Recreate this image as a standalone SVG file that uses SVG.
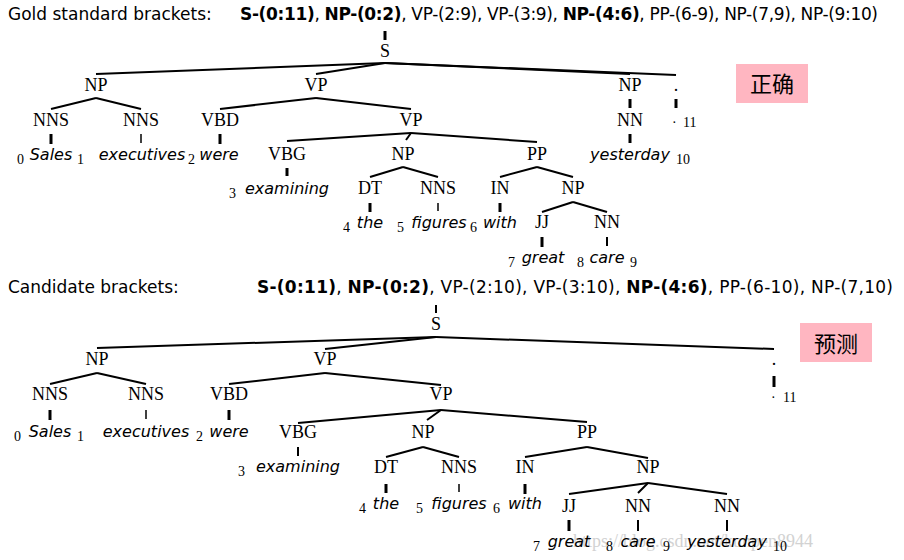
<svg xmlns="http://www.w3.org/2000/svg" width="904" height="560" viewBox="0 0 904 560">
<style>
.hd{font-family:"DejaVu Sans",sans-serif;font-size:17px;fill:#000}
.b{font-weight:bold}
.lb{font-family:"Liberation Serif",serif;font-size:18px;fill:#000;text-anchor:middle}
.w{font-family:"DejaVu Sans",sans-serif;font-style:italic;font-size:16px;fill:#000;text-anchor:middle}
.n{font-family:"Liberation Serif",serif;font-size:14px;fill:#000}
.cj{font-family:"Noto Sans CJK SC",sans-serif;font-size:22px;fill:#000;text-anchor:middle}
.wm{font-family:"Liberation Serif",serif;font-size:18px;fill:#d2d2d2}
.e line{stroke:#000;stroke-width:2;stroke-linecap:butt}
.e line.t{stroke-width:3}
.e line.s{stroke-width:1.5}
</style>
<rect width="904" height="560" fill="#fff"/>
<text class="wm" x="573" y="547">https://blog.csdn.net/kunpen8944</text>
<text class="hd" x="8" y="20">Gold standard brackets:</text>
<text class="hd" x="240" y="20" textLength="638"><tspan class="b">S-(0:11)</tspan>, <tspan class="b">NP-(0:2)</tspan>, VP-(2:9), VP-(3:9), <tspan class="b">NP-(4:6)</tspan>, PP-(6-9), NP-(7,9), NP-(9:10)</text>
<text class="hd" x="8" y="293">Candidate brackets:</text>
<text class="hd" x="257" y="293" textLength="636"><tspan class="b">S-(0:11)</tspan>, <tspan class="b">NP-(0:2)</tspan>, VP-(2:10), VP-(3:10), <tspan class="b">NP-(4:6)</tspan>, PP-(6-10), NP-(7,10)</text>
<g id="tag-gold"><rect x="736" y="64" width="72" height="39" fill="#ffb6c1"/><text class="cj" x="772" y="92">正确</text></g>
<g id="tag-cand"><rect x="800" y="323" width="72" height="39" fill="#ffb6c1"/><text class="cj" x="836" y="352">预测</text></g>
<g class="e" id="connectors">
<line class="t" x1="385" y1="31" x2="385" y2="40"/>
<line x1="385" y1="63" x2="96" y2="74"/>
<line x1="385" y1="63" x2="316" y2="74"/>
<line x1="385" y1="63" x2="630" y2="74"/>
<line x1="385" y1="63" x2="676" y2="75"/>
<line x1="96" y1="98" x2="51" y2="109"/>
<line x1="96" y1="98" x2="141" y2="109"/>
<line x1="316" y1="98" x2="220" y2="109"/>
<line x1="316" y1="98" x2="411" y2="109"/>
<line class="t" x1="630" y1="99" x2="630" y2="108"/>
<line class="t" x1="676" y1="99" x2="676" y2="108"/>
<line class="t" x1="51" y1="134" x2="51" y2="144"/>
<line class="s" x1="141" y1="134" x2="141" y2="143"/>
<line class="t" x1="220" y1="134" x2="220" y2="144"/>
<line class="t" x1="630" y1="134" x2="630" y2="143"/>
<line x1="411" y1="133" x2="287" y2="141"/>
<line x1="411" y1="133" x2="406" y2="140"/>
<line x1="411" y1="133" x2="537" y2="142"/>
<line class="t" x1="287" y1="168" x2="287" y2="176"/>
<line x1="403" y1="167" x2="370" y2="177"/>
<line x1="403" y1="167" x2="438" y2="177"/>
<line x1="537" y1="167" x2="500" y2="177"/>
<line x1="537" y1="167" x2="573" y2="177"/>
<line class="t" x1="370" y1="203" x2="370" y2="212"/>
<line class="s" x1="438" y1="203" x2="438" y2="211"/>
<line class="t" x1="500" y1="203" x2="500" y2="212"/>
<line x1="573" y1="202" x2="542" y2="212"/>
<line x1="573" y1="202" x2="607" y2="212"/>
<line class="t" x1="542" y1="237" x2="542" y2="247"/>
<line x1="607" y1="237" x2="607" y2="246"/>
<line x1="436" y1="305" x2="436" y2="313"/>
<line x1="436" y1="337" x2="97" y2="348"/>
<line x1="436" y1="337" x2="325" y2="349"/>
<line x1="436" y1="337" x2="774" y2="349"/>
<line x1="97" y1="373" x2="50" y2="384"/>
<line x1="97" y1="373" x2="146" y2="384"/>
<line x1="325" y1="373" x2="229" y2="384"/>
<line x1="325" y1="373" x2="441" y2="385"/>
<line class="t" x1="774" y1="376" x2="774" y2="387"/>
<line class="t" x1="50" y1="410" x2="50" y2="420"/>
<line class="s" x1="146" y1="410" x2="146" y2="419"/>
<line class="t" x1="229" y1="410" x2="229" y2="420"/>
<line x1="441" y1="410" x2="298" y2="423"/>
<line x1="441" y1="410" x2="427" y2="420"/>
<line x1="441" y1="410" x2="587" y2="422"/>
<line x1="298" y1="447" x2="298" y2="456"/>
<line x1="423" y1="447" x2="386" y2="457"/>
<line x1="423" y1="447" x2="459" y2="457"/>
<line x1="587" y1="447" x2="525" y2="457"/>
<line x1="587" y1="447" x2="648" y2="458"/>
<line class="t" x1="386" y1="484" x2="386" y2="493"/>
<line class="s" x1="459" y1="484" x2="459" y2="492"/>
<line class="t" x1="525" y1="484" x2="525" y2="494"/>
<line x1="648" y1="483" x2="569" y2="494"/>
<line x1="648" y1="483" x2="638" y2="493"/>
<line x1="648" y1="483" x2="727" y2="494"/>
<line class="t" x1="569" y1="520" x2="569" y2="531"/>
<line x1="638" y1="520" x2="638" y2="531"/>
<line x1="727" y1="520" x2="727" y2="531"/>
</g>
<g id="gold-tree">
<g id="g-S"><text class="lb" x="385" y="57">S</text></g>
<g id="g-NP1"><text class="lb" x="96" y="91">NP</text></g>
<g id="g-VP1"><text class="lb" x="316" y="91">VP</text></g>
<g id="g-NP9"><text class="lb" x="630" y="91">NP</text></g>
<g id="g-dot"><text class="lb" x="676" y="91">.</text></g>
<g id="g-NNS0"><text class="lb" x="51" y="126">NNS</text></g>
<g id="g-NNS1"><text class="lb" x="141" y="126">NNS</text></g>
<g id="g-VBD"><text class="lb" x="220" y="126">VBD</text></g>
<g id="g-VP2"><text class="lb" x="411" y="126">VP</text></g>
<g id="g-NN9"><text class="lb" x="630" y="126">NN</text></g>
<g id="g-w10"><text class="n" x="672" y="127">·</text><text class="n" x="683" y="127">11</text></g>
<g id="g-VBG"><text class="lb" x="287" y="160">VBG</text></g>
<g id="g-NP4"><text class="lb" x="403" y="160">NP</text></g>
<g id="g-PP"><text class="lb" x="537" y="160">PP</text></g>
<g id="g-DT"><text class="lb" x="370" y="194">DT</text></g>
<g id="g-NNS5"><text class="lb" x="438" y="194">NNS</text></g>
<g id="g-IN"><text class="lb" x="500" y="194">IN</text></g>
<g id="g-NP7"><text class="lb" x="573" y="194">NP</text></g>
<g id="g-JJ"><text class="lb" x="542" y="228">JJ</text></g>
<g id="g-NN8"><text class="lb" x="607" y="228">NN</text></g>
<g id="g-words">
<text class="n" x="17" y="164">0</text><text class="w" x="51" y="160">Sales</text><text class="n" x="77" y="164">1</text>
<text class="w" x="142" y="160">executives</text><text class="n" x="188" y="164">2</text><text class="w" x="219" y="160">were</text>
<text class="w" x="630" y="160">yesterday</text><text class="n" x="676" y="164">10</text>
<text class="n" x="229" y="198">3</text><text class="w" x="287" y="194">examining</text>
<text class="n" x="343" y="232">4</text><text class="w" x="370" y="228">the</text>
<text class="n" x="397" y="232">5</text><text class="w" x="439" y="228">figures</text><text class="n" x="470" y="232">6</text><text class="w" x="500" y="228">with</text>
<text class="n" x="508" y="267">7</text><text class="w" x="543" y="263">great</text>
<text class="n" x="577" y="267">8</text><text class="w" x="607" y="263">care</text><text class="n" x="630" y="267">9</text>
</g>
</g>
<g id="cand-tree">
<g id="c-S"><text class="lb" x="436" y="330">S</text></g>
<g id="c-NP1"><text class="lb" x="97" y="365">NP</text></g>
<g id="c-VP1"><text class="lb" x="325" y="365">VP</text></g>
<g id="c-dot"><text class="lb" x="774" y="365">.</text></g>
<g id="c-w10"><text class="n" x="771" y="402">·</text><text class="n" x="783" y="402">11</text></g>
<g id="c-NNS0"><text class="lb" x="50" y="400">NNS</text></g>
<g id="c-NNS1"><text class="lb" x="146" y="400">NNS</text></g>
<g id="c-VBD"><text class="lb" x="229" y="400">VBD</text></g>
<g id="c-VP2"><text class="lb" x="441" y="400">VP</text></g>
<g id="c-VBG"><text class="lb" x="298" y="438">VBG</text></g>
<g id="c-NP4"><text class="lb" x="423" y="438">NP</text></g>
<g id="c-PP"><text class="lb" x="587" y="438">PP</text></g>
<g id="c-DT"><text class="lb" x="386" y="473">DT</text></g>
<g id="c-NNS5"><text class="lb" x="459" y="473">NNS</text></g>
<g id="c-IN"><text class="lb" x="525" y="473">IN</text></g>
<g id="c-NP7"><text class="lb" x="648" y="473">NP</text></g>
<g id="c-JJ"><text class="lb" x="569" y="512">JJ</text></g>
<g id="c-NN8"><text class="lb" x="638" y="512">NN</text></g>
<g id="c-NN9"><text class="lb" x="727" y="512">NN</text></g>
<g id="c-words">
<text class="n" x="14" y="441">0</text><text class="w" x="50" y="437">Sales</text><text class="n" x="77" y="441">1</text>
<text class="w" x="146" y="437">executives</text><text class="n" x="196" y="441">2</text><text class="w" x="229" y="437">were</text>
<text class="n" x="238" y="476">3</text><text class="w" x="298" y="472">examining</text>
<text class="n" x="359" y="513">4</text><text class="w" x="386" y="509">the</text>
<text class="n" x="416" y="513">5</text><text class="w" x="459" y="509">figures</text><text class="n" x="493" y="513">6</text><text class="w" x="525" y="509">with</text>
<text class="n" x="533" y="551">7</text><text class="w" x="569" y="547">great</text>
<text class="n" x="606" y="551">8</text><text class="w" x="638" y="547">care</text><text class="n" x="663" y="551">9</text>
<text class="w" x="727" y="547">yesterday</text><text class="n" x="773" y="551">10</text>
</g>
</g>
</svg>
